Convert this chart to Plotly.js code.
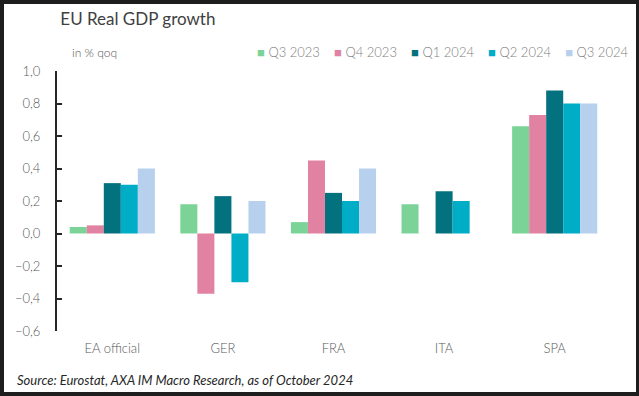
<!DOCTYPE html>
<html>
<head>
<meta charset="utf-8">
<script src="https://cdn.plot.ly/plotly-3.0.1.min.js"></script>
<style>
  html, body { margin: 0; padding: 0; background: #1e1e1e; width: 639px; height: 396px; overflow: hidden; }
  #chart { position: absolute; left: 4px; top: 4px; width: 632px; height: 388px; background: #ffffff; }
</style>
</head>
<body>
<div id="chart"></div>
<script>
// ---- data ----
const categories = ["EA official", "GER", "FRA", "ITA", "SPA"];
const seriesNames = ["Q3 2023", "Q4 2023", "Q1 2024", "Q2 2024", "Q3 2024"];
const q3_2023 = [0.04, 0.18, 0.07, 0.18, 0.66];
const q4_2023 = [0.05, -0.37, 0.45, 0.0, 0.73];
const q1_2024 = [0.31, 0.23, 0.25, 0.26, 0.88];
const q2_2024 = [0.30, -0.30, 0.20, 0.20, 0.80];
const q3_2024 = [0.40, 0.20, 0.40, null, 0.80];
const seriesColors = ["#7bd398", "#e282a2", "#04717e", "#00adc6", "#b6d0ee"];
const yTicks = [1.0, 0.8, 0.6, 0.4, 0.2, 0.0, -0.2, -0.4, -0.6];

const values = [q3_2023, q4_2023, q1_2024, q2_2024, q3_2024];
const yMin = Math.min(...yTicks), yMax = Math.max(...yTicks);

const FONT = "Lato, 'Open Sans', sans-serif";

const traces = values.map((v, i) => ({
  type: "bar",
  name: seriesNames[i],
  x: categories,
  y: v,
  marker: { color: seriesColors[i], line: { width: 0 } },
  showlegend: false,
  hoverinfo: "x+y+name"
}));

const legendText = seriesNames.map((n, i) =>
  `<span style="color:${seriesColors[i]}">■</span> ${n}`
).join("&nbsp;&nbsp;&nbsp;&nbsp;");

const layout = {
  width: 632,
  height: 388,
  paper_bgcolor: "#ffffff",
  plot_bgcolor: "#ffffff",
  font: { family: FONT, color: "#595959", size: 13 },
  margin: { l: 53, r: 26, t: 67, b: 61 },
  barmode: "group",
  bargap: 0.23,
  bargroupgap: 0,
  separators: ",.",
  title: {
    text: "EU Real GDP growth",
    x: 0.006, xanchor: "left", xref: "paper",
    y: 0.962, yanchor: "middle", yref: "container",
    font: { family: FONT, size: 17, color: "#404040" }
  },
  xaxis: {
    type: "category",
    showline: false,
    showgrid: false,
    zeroline: false,
    ticks: "",
    ticklabelstandoff: 8,
    tickfont: { family: FONT, size: 13, color: "#595959", weight: 300 },
    fixedrange: true
  },
  xaxis2: {
    overlaying: "x",
    anchor: "free",
    position: (0 - yMin) / (yMax - yMin),
    range: [-0.5, categories.length - 0.5],
    showline: true,
    linecolor: "#000000",
    linewidth: 2,
    ticks: "inside",
    ticklen: 5,
    tickwidth: 2,
    tickcolor: "#000000",
    tickvals: categories.map((c, i) => i + 0.5),
    showticklabels: false,
    showgrid: false,
    zeroline: false,
    fixedrange: true
  },
  yaxis: {
    range: [yMin, yMax],
    tickvals: yTicks,
    tickformat: ".1f",
    showgrid: false,
    zeroline: false,
    showline: true,
    linecolor: "#262626",
    linewidth: 2,
    ticks: "inside",
    ticklen: 5,
    tickwidth: 2,
    tickcolor: "#262626",
    ticklabelstandoff: 12,
    tickfont: { family: FONT, size: 13, color: "#595959", weight: 300 },
    fixedrange: true
  },
  annotations: [
    {
      text: legendText,
      xref: "paper", yref: "paper",
      x: 1.036, xanchor: "right",
      y: 1.073, yanchor: "middle",
      showarrow: false,
      font: { family: FONT, size: 13, color: "#808080", weight: 300 }
    },
    {
      text: "in % qoq",
      xref: "paper", yref: "paper",
      x: 0.0235, xanchor: "left",
      y: 1.073, yanchor: "middle",
      showarrow: false,
      font: { family: FONT, size: 12, color: "#595959", weight: 300 }
    },
    {
      text: "<i>Source: Eurostat, AXA IM Macro Research, as of October 2024</i>",
      xref: "paper", yref: "paper",
      x: -0.076, xanchor: "left",
      y: -0.19, yanchor: "middle",
      showarrow: false,
      font: { family: FONT, size: 13, color: "#262626" }
    }
  ]
};

Plotly.newPlot("chart", traces, layout, { displayModeBar: false, staticPlot: true });
</script>
</body>
</html>
